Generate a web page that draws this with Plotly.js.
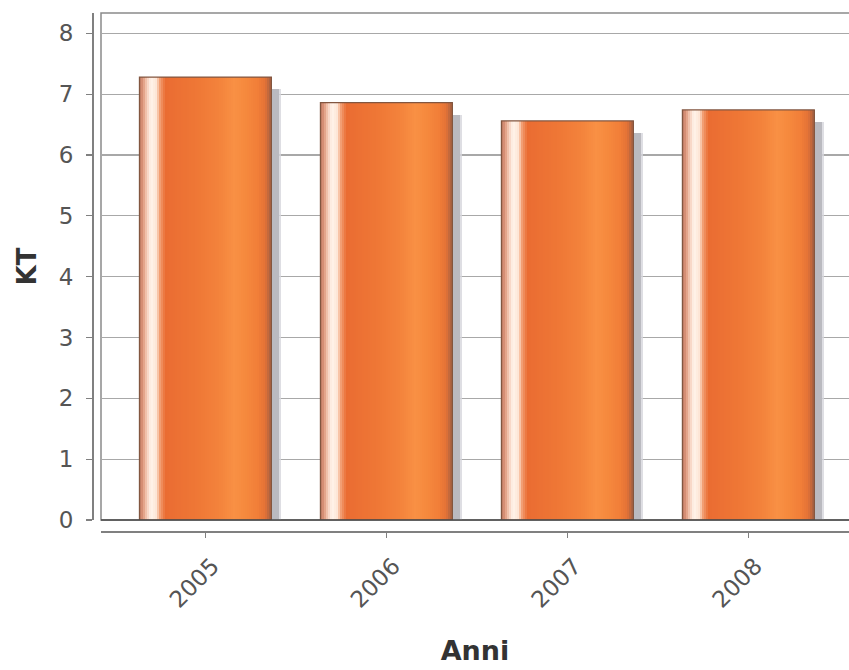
<!DOCTYPE html>
<html>
<head>
<meta charset="utf-8">
<script src="https://cdn.plot.ly/plotly-3.0.1.min.js"></script>
<style>html,body{margin:0;padding:0;background:#fff;}#chart{width:849px;height:670px;}</style>
</head>
<body>
<div id="chart"></div>
<script>
// ---- data ----
const years = ["2005", "2006", "2007", "2008"];
const valuesKT = [7.28, 6.86, 6.56, 6.74];
const yTickValues = [0, 1, 2, 3, 4, 5, 6, 7, 8];
const xTitle = "Anni";
const yTitle = "KT";

// ---- styling: horizontal colour profile of each bar (fraction -> colour) ----
const BAR_W = 0.729;
const BAR_START = -0.3646;
const stops = [
  [0.00, [184, 118, 96]],
  [0.03, [222, 150, 122]],
  [0.06, [246, 206, 186]],
  [0.09, [255, 244, 236]],
  [0.13, [253, 230, 214]],
  [0.16, [242, 156, 112]],
  [0.20, [234, 108, 50]],
  [0.45, [239, 120, 54]],
  [0.62, [244, 132, 60]],
  [0.72, [249, 144, 68]],
  [0.80, [246, 138, 62]],
  [0.90, [241, 126, 56]],
  [0.955, [228, 114, 54]],
  [1.00, [164, 96, 66]]
];
function colorAt(t) {
  for (let i = 1; i < stops.length; i++) {
    if (t <= stops[i][0]) {
      const a = stops[i - 1], b = stops[i];
      const f = (t - a[0]) / (b[0] - a[0]);
      const c = a[1].map((v, k) => Math.round(v + (b[1][k] - v) * f));
      return `rgb(${c[0]},${c[1]},${c[2]})`;
    }
  }
  const c = stops[stops.length - 1][1];
  return `rgb(${c[0]},${c[1]},${c[2]})`;
}

const traces = [];
// soft shadow (behind)
traces.push({
  type: 'bar', x: years, y: valuesKT, base: -0.2,
  width: BAR_W + 0.012, offset: BAR_START + 0.042,
  marker: {color: 'rgba(214,214,220,0.8)', line: {width: 0}},
  hoverinfo: 'skip', showlegend: false
});
traces.push({
  type: 'bar', x: years, y: valuesKT, base: -0.2,
  width: BAR_W, offset: BAR_START + 0.04,
  marker: {color: 'rgb(186,186,192)', line: {width: 0}},
  hoverinfo: 'skip', showlegend: false
});
// gradient stripes
const N = 66;
for (let i = 0; i < N; i++) {
  const t = (i + 0.5) / N;
  traces.push({
    type: 'bar', x: years, y: valuesKT,
    width: BAR_W / N + 0.0025, offset: BAR_START + BAR_W * i / N,
    marker: {color: colorAt(t), line: {width: 0}},
    hoverinfo: 'skip', showlegend: false
  });
}
// outline
traces.push({
  type: 'bar', x: years, y: valuesKT,
  width: BAR_W, offset: BAR_START,
  marker: {color: 'rgba(0,0,0,0)', line: {width: 1.2, color: 'rgb(130,86,64)'}},
  hoverinfo: 'skip', showlegend: false
});

const W = 849, H = 670, ML = 86, MB = 139, MT = 13;
const PW = W - ML, PH = H - MT - MB;

const layout = {
  width: W, height: H,
  margin: {l: ML, r: 0, t: MT, b: MB, pad: 0},
  paper_bgcolor: '#ffffff', plot_bgcolor: '#ffffff',
  barmode: 'overlay', bargap: 0,
  showlegend: false, hovermode: false,
  xaxis: {
    type: 'category', domain: [(101 - ML) / PW, 1],
    anchor: 'free', position: 0,
    range: [-0.577, 3.556],
    showline: true, linecolor: '#808080', linewidth: 1.5,
    ticks: 'outside', ticklen: 5, tickcolor: '#808080', tickwidth: 1.2,
    tickangle: -45, ticklabelstandoff: 6, ticklabelshift: 7,
    tickfont: {family: 'DejaVu Sans', size: 23, color: '#555'},
    showgrid: false, zeroline: false,
    title: {text: xTitle, standoff: 29, font: {family: 'DejaVu Sans', size: 27, color: '#333', weight: 'bold'}}
  },
  yaxis: {
    domain: [(531 - 520) / PH, 1],
    anchor: 'free', position: (92 - ML) / PW,
    range: [0, 8.333],
    tickvals: yTickValues,
    showline: true, linecolor: '#808080', linewidth: 1.5,
    ticks: 'outside', ticklen: 6, tickcolor: '#808080', tickwidth: 1.2,
    ticklabelstandoff: 8,
    tickfont: {family: 'DejaVu Sans', size: 23, color: '#555'},
    showgrid: true, gridcolor: '#a8a8a8', gridwidth: 1.2, zeroline: false,
    title: {text: yTitle, standoff: 13, font: {family: 'DejaVu Sans', size: 26, color: '#333', weight: 'bold'}}
  },
  shapes: [
    {type: 'rect', xref: 'x domain', yref: 'y domain', x0: 0, x1: 1.05, y0: 0, y1: 1,
     line: {color: '#8a8a8a', width: 1.5}, fillcolor: 'rgba(0,0,0,0)', layer: 'below'},
    {type: 'line', xref: 'x domain', yref: 'y domain', x0: 0, x1: 1, y0: 0, y1: 0,
     line: {color: '#4a4a4a', width: 1.6}, layer: 'above'}
  ]
};

Plotly.newPlot('chart', traces, layout, {displayModeBar: false, staticPlot: true});
</script>
</body>
</html>
